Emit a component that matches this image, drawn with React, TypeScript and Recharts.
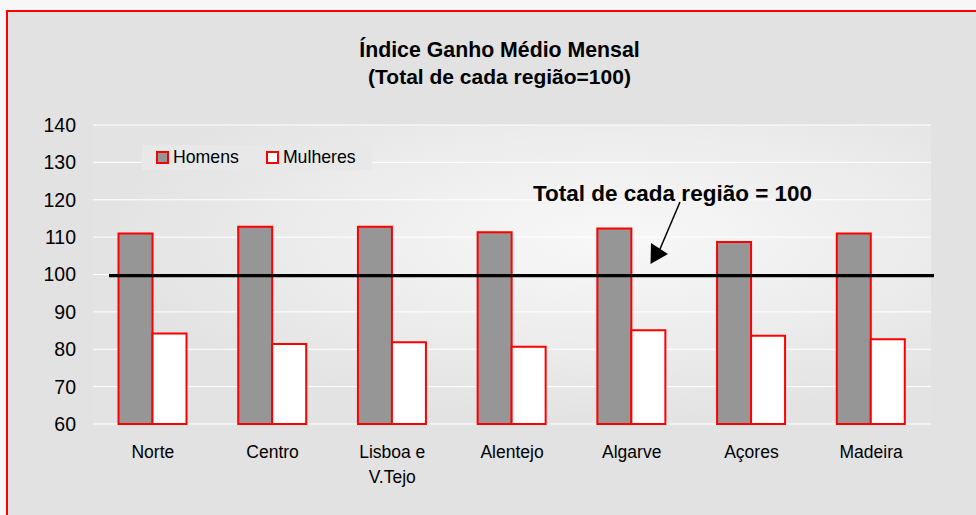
import React from 'react';
import { BarChart, Bar, XAxis, YAxis, CartesianGrid, ReferenceLine, Legend } from 'recharts';

const categories = ['Norte', 'Centro', 'Lisboa e\nV.Tejo', 'Alentejo', 'Algarve', 'Açores', 'Madeira'];
const homens = [111.0, 112.8, 112.8, 111.3, 112.3, 108.7, 111.0];
const mulheres = [84.2, 81.4, 81.9, 80.7, 85.1, 83.6, 82.7];
const yTicks = [60, 70, 80, 90, 100, 110, 120, 130, 140];
const seriesNames = ['Homens', 'Mulheres'];
const referenceValue = 100;
const titleLines = ['Índice Ganho Médio Mensal', '(Total de cada região=100)'];
const annotationText = 'Total de cada região = 100';

const data = categories.map((c, i) => ({ name: c, homens: homens[i], mulheres: mulheres[i] }));

const FONT = '"Liberation Sans", Arial, Helvetica, sans-serif';
const RED = '#ff0000';
const GRAY = '#969696';

const XTick = (props: any) => {
  const { x, y, payload } = props;
  const lines = String(payload.value).split('\n');
  return (
    <text x={x} y={y} textAnchor="middle" fill="#000" fontSize={17.5} fontFamily={FONT}>
      {lines.map((l, i) => (
        <tspan key={i} x={x} dy={i === 0 ? '0.71em' : 25}>{l}</tspan>
      ))}
    </text>
  );
};

const RefShape = (p: any) => (
  <line x1={p.x1 + 16} x2={p.x2 + 3} y1={p.y1 + 1.2} y2={p.y2 + 1.2} stroke="#000" strokeWidth={3.3} />
);

const LegendContent = () => (
  <div style={{ display: 'flex', alignItems: 'center', height: 25, paddingLeft: 14, background: '#e8e8e8', fontFamily: FONT, fontSize: 17.7, color: '#000' }}>
    {seriesNames.map((n, i) => (
      <div key={n} style={{ display: 'flex', alignItems: 'center', marginRight: 27 }}>
        <span style={{ display: 'inline-block', width: 13, height: 13, boxSizing: 'border-box', border: `2px solid ${RED}`, background: i === 0 ? GRAY : '#fff', marginRight: 4 }} />
        <span>{n}</span>
      </div>
    ))}
  </div>
);

export default function App() {
  return (
    <div style={{ position: 'absolute', left: 0, top: 0, width: 976, height: 515, background: '#f7f7f7', overflow: 'hidden' }}>
      <div style={{ position: 'absolute', left: 6, top: 10, width: 1000, height: 540, boxSizing: 'border-box', border: `2px solid ${RED}`, background: '#e2e2e2' }} />
      <div style={{ position: 'absolute', left: 0, top: 0 }}>
        <BarChart width={976} height={515} data={data} margin={{ top: 125, right: 45, bottom: 0, left: 0 }} barCategoryGap="21.3%" barGap={0}>
          <defs>
            <radialGradient id="plotGrad" cx="0.62" cy="0.38" r="0.6">
              <stop offset="0" stopColor="#f8f8f8" />
              <stop offset="0.55" stopColor="#ededed" />
              <stop offset="1" stopColor="#e3e3e3" />
            </radialGradient>
          </defs>
          <CartesianGrid vertical={false} stroke="#ffffff" strokeWidth={1} fill="url(#plotGrad)" fillOpacity={1} />
          <XAxis dataKey="name" axisLine={false} tickLine={false} tickSize={0} tickMargin={22} height={91} interval={0} tick={<XTick />} />
          <YAxis domain={[60, 140]} ticks={yTicks} axisLine={false} tickLine={false} tickSize={0} tickMargin={17} width={93} interval={0}
            tick={{ fill: '#000', fontSize: 19.5, fontFamily: FONT }} />
          <Legend layout="vertical" align="center" verticalAlign="middle" content={<LegendContent />}
            wrapperStyle={{ left: 142, top: 145, width: 230, height: 25 }} />
          <Bar dataKey="homens" name={seriesNames[0]} fill={GRAY} stroke={RED} strokeWidth={2} isAnimationActive={false} />
          <Bar dataKey="mulheres" name={seriesNames[1]} fill="#ffffff" stroke={RED} strokeWidth={2} isAnimationActive={false} />
          <ReferenceLine y={referenceValue} stroke="#000" strokeWidth={3.3} shape={RefShape} />
        </BarChart>
      </div>
      <svg width={976} height={515} style={{ position: 'absolute', left: 0, top: 0, pointerEvents: 'none' }}>
        <text x={499.5} y={57} textAnchor="middle" fontFamily={FONT} fontWeight="bold" fontSize={21.3} fill="#000">{titleLines[0]}</text>
        <text x={499.5} y={84} textAnchor="middle" fontFamily={FONT} fontWeight="bold" fontSize={21} fill="#000">{titleLines[1]}</text>
        <text x={533} y={201} textAnchor="start" fontFamily={FONT} fontWeight="bold" fontSize={22.5} fill="#000">{annotationText}</text>
        <line x1={680} y1={202} x2={660} y2={249} stroke="#000" strokeWidth={1.5} />
        <polygon points="650.5,264 651,243 668,254" fill="#000" />
      </svg>
    </div>
  );
}
